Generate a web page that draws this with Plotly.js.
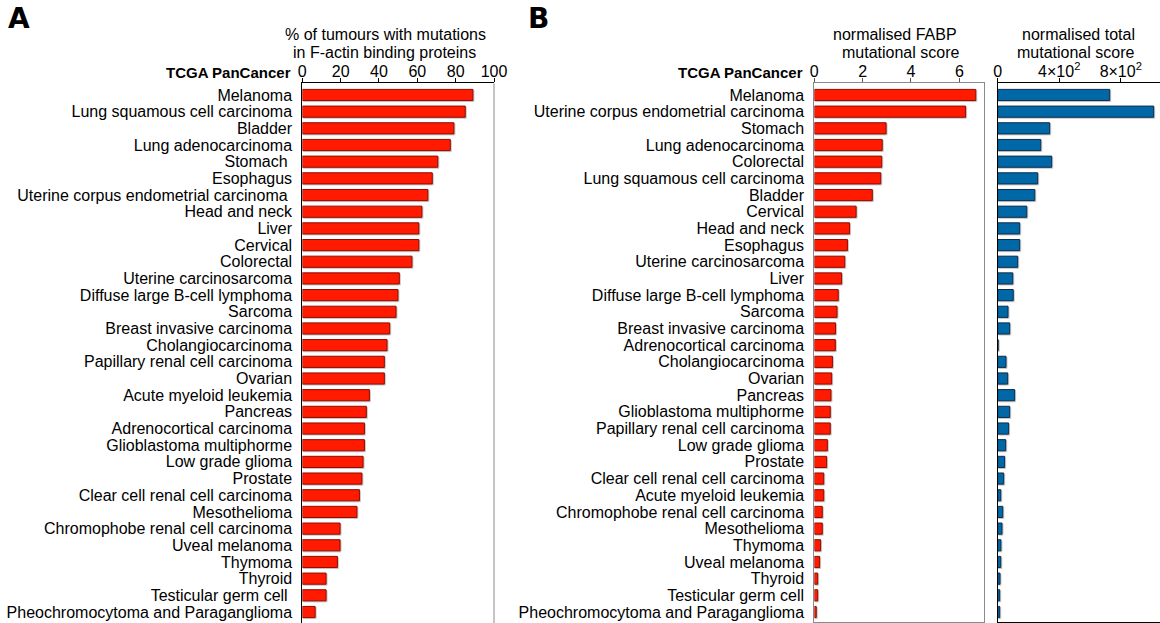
<!DOCTYPE html>
<html>
<head>
<meta charset="utf-8">
<script src="https://cdn.plot.ly/plotly-3.0.1.min.js"></script>
<style>
  html, body { margin: 0; padding: 0; background: #fff; }
  #chart { width: 1160px; height: 623px; }
  /* soft grey shadow under every bar */
  .js-plotly-plot .barlayer .point path {
    filter: drop-shadow(1.5px 1.5px 0px rgba(0, 0, 0, 0.22));
  }
</style>
</head>
<body>
<div id="chart"></div>
<script>
// Panel A: share of tumours with mutations in F-actin binding proteins (%)
const cancersA = [
  "Melanoma", "Lung squamous cell carcinoma", "Bladder", "Lung adenocarcinoma",
  "Stomach\u00a0", "Esophagus", "Uterine corpus endometrial carcinoma\u00a0", "Head and neck",
  "Liver", "Cervical", "Colorectal", "Uterine carcinosarcoma",
  "Diffuse large B-cell lymphoma", "Sarcoma", "Breast invasive carcinoma", "Cholangiocarcinoma",
  "Papillary renal cell carcinoma", "Ovarian", "Acute myeloid leukemia", "Pancreas",
  "Adrenocortical carcinoma", "Glioblastoma multiphorme", "Low grade glioma", "Prostate",
  "Clear cell renal cell carcinoma", "Mesothelioma", "Chromophobe renal cell carcinoma", "Uveal melanoma",
  "Thymoma", "Thyroid", "Testicular germ cell\u00a0", "Pheochromocytoma and Paraganglioma"
];
const pctMutatedA = [
  89.0, 85.0, 79.1, 77.2, 70.7, 67.8, 65.5, 62.4,
  60.8, 60.8, 57.2, 50.6, 49.9, 48.9, 45.6, 44.2,
  42.8, 42.8, 35.0, 33.4, 32.4, 32.4, 31.7, 31.1,
  29.8, 28.5, 19.7, 19.7, 18.3, 12.4, 12.4, 6.7
];

// Panel B: normalised FABP and total mutational scores
const cancersB = [
  "Melanoma", "Uterine corpus endometrial carcinoma", "Stomach", "Lung adenocarcinoma",
  "Colorectal", "Lung squamous cell carcinoma", "Bladder", "Cervical",
  "Head and neck", "Esophagus", "Uterine carcinosarcoma", "Liver",
  "Diffuse large B-cell lymphoma", "Sarcoma", "Breast invasive carcinoma", "Adrenocortical carcinoma",
  "Cholangiocarcinoma", "Ovarian", "Pancreas", "Glioblastoma multiphorme",
  "Papillary renal cell carcinoma", "Low grade glioma", "Prostate", "Clear cell renal cell carcinoma",
  "Acute myeloid leukemia", "Chromophobe renal cell carcinoma", "Mesothelioma", "Thymoma",
  "Uveal melanoma", "Thyroid", "Testicular germ cell", "Pheochromocytoma and Paraganglioma"
];
const fabpScoreB = [
  6.68, 6.26, 2.97, 2.81, 2.79, 2.75, 2.40, 1.73,
  1.46, 1.37, 1.26, 1.13, 0.99, 0.94, 0.88, 0.87,
  0.75, 0.72, 0.69, 0.66, 0.66, 0.54, 0.51, 0.39,
  0.39, 0.33, 0.33, 0.26, 0.22, 0.14, 0.14, 0.08
];
const totalScoreB = [
  728, 1014, 338, 280, 351, 260, 241, 189,
  143, 143, 130, 98, 101, 67, 78, 3,
  54, 65, 110, 78, 71, 52, 45, 39,
  20, 33, 28, 21, 20, 15, 13, 13
];

const totalTickVals = [0, 400, 800];
const totalTickText = ["0", "4\u00d710<sup>2</sup>", "8\u00d710<sup>2</sup>"];

const W = 1160, H = 623;
const px = x => x / W;
const py = y => 1 - y / H;

const FONT = "Liberation Sans, Arial, Helvetica, sans-serif";
const RED = "#ff1a00", RED_EDGE = "#8f0b00";
const BLUE = "#0068a6", BLUE_EDGE = "#0c2c4e";
const BAR_W = 0.67;

const traces = [
  {
    type: "bar", orientation: "h",
    x: pctMutatedA, y: cancersA,
    xaxis: "x", yaxis: "y",
    width: BAR_W,
    marker: { color: RED, line: { color: RED_EDGE, width: 1 } },
    hoverinfo: "x+y"
  },
  {
    type: "bar", orientation: "h",
    x: fabpScoreB, y: cancersB,
    xaxis: "x2", yaxis: "y2",
    width: BAR_W,
    marker: { color: RED, line: { color: RED_EDGE, width: 1 } },
    hoverinfo: "x+y"
  },
  {
    type: "bar", orientation: "h",
    x: totalScoreB, y: cancersB,
    xaxis: "x3", yaxis: "y3",
    width: BAR_W,
    marker: { color: BLUE, line: { color: BLUE_EDGE, width: 1 } },
    hoverinfo: "x+y"
  }
];

const topY = py(83.3);
const commonX = {
  side: "top", showgrid: false, zeroline: false, fixedrange: true,
  ticks: "outside", ticklen: 4, tickwidth: 1,
  ticklabelstandoff: -5,
  tickfont: { family: FONT, size: 16, color: "#000" },
  showline: true, linewidth: 1
};
const commonY = {
  type: "category", showgrid: false, zeroline: false, fixedrange: true,
  tickmode: "linear", tick0: 0, dtick: 1,
  ticks: "", tickfont: { family: FONT, size: 16, color: "#000" },
  ticklabelstandoff: 6
};

const layout = {
  width: W, height: H,
  margin: { l: 0, r: 0, t: 0, b: 0 },
  paper_bgcolor: "#fff", plot_bgcolor: "#fff",
  showlegend: false,
  font: { family: FONT, size: 16, color: "#000" },
  xaxis: Object.assign({}, commonX, {
    domain: [px(302.3), px(494)], range: [0, 100], dtick: 20, tick0: 0,
    anchor: "y", linecolor: "#000", tickcolor: "#000"
  }),
  yaxis: Object.assign({}, commonY, {
    domain: [0, topY], range: [31.66, -0.7],
    categoryorder: "array", categoryarray: cancersA,
    anchor: "x", showline: true, linecolor: "#000", linewidth: 1
  }),
  xaxis2: Object.assign({}, commonX, {
    domain: [px(814.3), px(983.5)], range: [0, 7], dtick: 2, tick0: 0,
    anchor: "y2", linecolor: "#8a8a8a", tickcolor: "#555", mirror: true
  }),
  yaxis2: Object.assign({}, commonY, {
    domain: [py(622), topY], range: [31.6, -0.7],
    categoryorder: "array", categoryarray: cancersB,
    anchor: "x2", showline: true, linecolor: "#8a8a8a", linewidth: 1, mirror: true
  }),
  xaxis3: Object.assign({}, commonX, {
    domain: [px(997.7), 1], range: [0, 1055],
    tickmode: "array", tickvals: totalTickVals, ticktext: totalTickText,
    anchor: "y3", linecolor: "#000", tickcolor: "#000", mirror: true
  }),
  yaxis3: Object.assign({}, commonY, {
    domain: [py(622), topY], range: [31.6, -0.7],
    categoryorder: "array", categoryarray: cancersB,
    anchor: "x3", showticklabels: false,
    showline: true, linecolor: "#000", linewidth: 1
  }),
  shapes: [
    // thin grey right border of panel A
    { type: "line", xref: "x domain", yref: "y domain", x0: 1, x1: 1, y0: 0, y1: 1,
      line: { color: "#8a8a8a", width: 1 } }
  ],
  annotations: [
    { text: "<b>A</b>", x: px(19), y: py(19), xref: "paper", yref: "paper",
      xanchor: "center", yanchor: "middle", showarrow: false,
      font: { family: "DejaVu Sans, Liberation Sans, Arial", size: 28, color: "#000" } },
    { text: "<b>B</b>", x: px(538), y: py(19), xref: "paper", yref: "paper",
      xanchor: "center", yanchor: "middle", showarrow: false,
      font: { family: "DejaVu Sans, Liberation Sans, Arial", size: 28, color: "#000" } },

    { text: "% of tumours with mutations", x: px(385.5), y: py(34), xref: "paper", yref: "paper",
      xanchor: "center", yanchor: "middle", showarrow: false, font: { size: 16 } },
    { text: "in F-actin binding proteins", x: px(384), y: py(52), xref: "paper", yref: "paper",
      xanchor: "center", yanchor: "middle", showarrow: false, font: { size: 16 } },
    { text: "<b>TCGA PanCancer</b>", x: px(293), y: py(72), xref: "paper", yref: "paper",
      xanchor: "right", yanchor: "middle", showarrow: false, font: { size: 15 } },

    { text: "normalised FABP", x: px(895), y: py(34), xref: "paper", yref: "paper",
      xanchor: "center", yanchor: "middle", showarrow: false, font: { size: 16 } },
    { text: "mutational score", x: px(900), y: py(52), xref: "paper", yref: "paper",
      xanchor: "center", yanchor: "middle", showarrow: false, font: { size: 16 } },
    { text: "<b>TCGA PanCancer</b>", x: px(805), y: py(72), xref: "paper", yref: "paper",
      xanchor: "right", yanchor: "middle", showarrow: false, font: { size: 15 } },

    { text: "normalised total", x: px(1078), y: py(34), xref: "paper", yref: "paper",
      xanchor: "center", yanchor: "middle", showarrow: false, font: { size: 16 } },
    { text: "mutational score", x: px(1075), y: py(52), xref: "paper", yref: "paper",
      xanchor: "center", yanchor: "middle", showarrow: false, font: { size: 16 } }
  ]
};

Plotly.newPlot("chart", traces, layout, { displayModeBar: false, staticPlot: true });
</script>
</body>
</html>
